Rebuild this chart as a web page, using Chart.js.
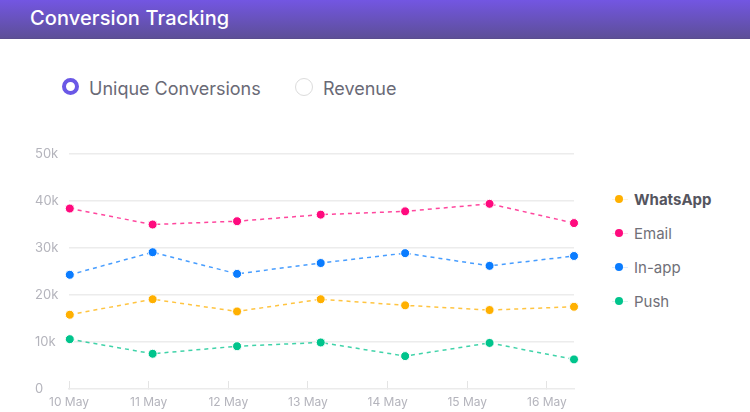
<!DOCTYPE html>
<html>
<head>
<meta charset="utf-8">
<script src="https://cdn.jsdelivr.net/npm/chart.js@4.4.1/dist/chart.umd.min.js"></script>
<style>
  html, body { margin: 0; padding: 0; background: #fff; }
  body { width: 750px; height: 412px; position: relative; overflow: hidden; font-family: Inter, "Noto Sans", sans-serif; }
  .header {
    position: absolute; left: 0; top: 0; width: 750px; height: 38px;
    background: linear-gradient(#7356e2, #5d4f98);
    border-bottom: 1px solid #5a4d8f;
  }
  .header h1 { margin: 0; position: absolute; left: 30px; top: 6px; font-size: 20px; font-weight: 500; color: #fff; letter-spacing: 0.1px; }
  .radio { position: absolute; top: 78px; height: 20px; display: flex; align-items: center; font-size: 18px; color: #6a6a76; }
  .radio .dot { width: 18px; height: 18px; box-sizing: border-box; border-radius: 50%; margin-right: 10px; }
  .radio.on .dot { border: 4px solid #6a58e6; width: 17px; height: 17px; margin-top: -3px; }
  .radio.off .dot { border: 1.5px solid #dcdcdc; margin-top: -3px; }
  #legend { position: absolute; left: 612px; top: 182px; }
  #legend .item { display: flex; align-items: center; height: 34px; font-size: 15px; color: #707078; }
  #legend .item.active { font-weight: 700; color: #55555e; }
  #legend .mark { width: 16px; height: 8px; position: relative; margin-right: 6px; }
  #legend .mark .ln { position: absolute; left: 0; right: 0; top: 3.5px; height: 1px; opacity: 0.15; }
  #legend .mark .pt { position: absolute; left: 3px; top: 0; width: 8px; height: 8px; border-radius: 50%; }
  .wrap { position: absolute; left: 0; top: 140px; width: 590px; height: 272px; }
</style>
</head>
<body>
<div class="header"><h1>Conversion Tracking</h1></div>
<div class="radio on" style="left:62px"><span class="dot"></span>Unique Conversions</div>
<div class="radio off" style="left:295px"><span class="dot"></span>Revenue</div>
<div class="wrap"><canvas id="convChart"></canvas></div>
<div id="legend"></div>
<script>
// x positions in days after 10 May
const xDays = [0.01, 1.05, 2.11, 3.16, 4.22, 5.28, 6.34];
const dayLabels = ['10 May', '11 May', '12 May', '13 May', '14 May', '15 May', '16 May'];
const seriesNames = ['WhatsApp', 'Email', 'In-app', 'Push'];
const seriesColors = ['#ffb000', '#ff0a7e', '#0a7cff', '#00c48c'];

const whatsapp = [15800, 19100, 16500, 19100, 17800, 16800, 17500];
const email = [38400, 35000, 35700, 37100, 37800, 39400, 35300];
const inapp = [24300, 29100, 24500, 26800, 28900, 26200, 28300];
const push = [10600, 7500, 9100, 9900, 7000, 9800, 6300];

const yTicks = [0, 10000, 20000, 30000, 40000, 50000];

function toPoints(vals) {
    return vals.map((v, i) => ({ x: xDays[i], y: v }));
}

function hexA(hex, a) {
    const n = parseInt(hex.slice(1), 16);
    return `rgba(${n >> 16},${(n >> 8) & 255},${n & 255},${a})`;
}

const allSeries = [whatsapp, email, inapp, push];

const datasets = allSeries.map((vals, i) => ({
    label: seriesNames[i],
    data: toPoints(vals),
    borderColor: hexA(seriesColors[i], 0.75),
    borderWidth: 1.5,
    borderDash: [4, 4],
    pointRadius: 4.5,
    pointBackgroundColor: seriesColors[i],
    pointBorderColor: '#fff',
    pointBorderWidth: 1,
    tension: 0,
    clip: false
}));

const ctx = document.getElementById('convChart').getContext('2d');
new Chart(ctx, {
    type: 'line',
    data: { datasets },
    options: {
        responsive: true,
        maintainAspectRatio: false,
        animation: false,
        layout: { padding: { left: 35, right: 16, top: 14, bottom: 0 } },
        plugins: { legend: { display: false }, tooltip: { enabled: false } },
        scales: {
            x: {
                type: 'linear',
                min: 0,
                max: 6.34,
                afterFit: s => { s.height = 23; },
                grid: { drawOnChartArea: false, drawTicks: true, tickLength: -8, tickColor: '#e4e4e4' },
                border: { color: '#ebebeb', width: 1.5 },
                ticks: {
                    stepSize: 1,
                    includeBounds: false,
                    autoSkip: false,
                    maxRotation: 0,
                    padding: 14,
                    color: '#b4b4bc',
                    font: { family: 'Inter', size: 12 },
                    callback: v => dayLabels[v] ?? ''
                }
            },
            y: {
                min: 0,
                max: 50000,
                afterFit: s => { s.width = 34; },
                afterBuildTicks: s => { s.ticks = yTicks.map(v => ({ value: v })); },
                grid: {
                    drawTicks: false,
                    color: c => c.tick.value === 0 ? 'rgba(0,0,0,0)' : '#ececec',
                    lineWidth: 1.5
                },
                border: { display: false },
                ticks: {
                    crossAlign: 'far',
                    padding: 0,
                    color: '#b4b4bc',
                    font: { family: 'Inter', size: 13 },
                    callback: v => v === 0 ? '0' : (v / 1000) + 'k'
                }
            }
        }
    }
});

// legend
const legend = document.getElementById('legend');
seriesNames.forEach((name, i) => {
    const item = document.createElement('div');
    item.className = 'item' + (i === 0 ? ' active' : '');
    item.innerHTML = `<span class="mark"><span class="ln" style="background:${seriesColors[i]}"></span>` +
        `<span class="pt" style="background:${seriesColors[i]}"></span></span>${name}`;
    legend.appendChild(item);
});
</script>
</body>
</html>
